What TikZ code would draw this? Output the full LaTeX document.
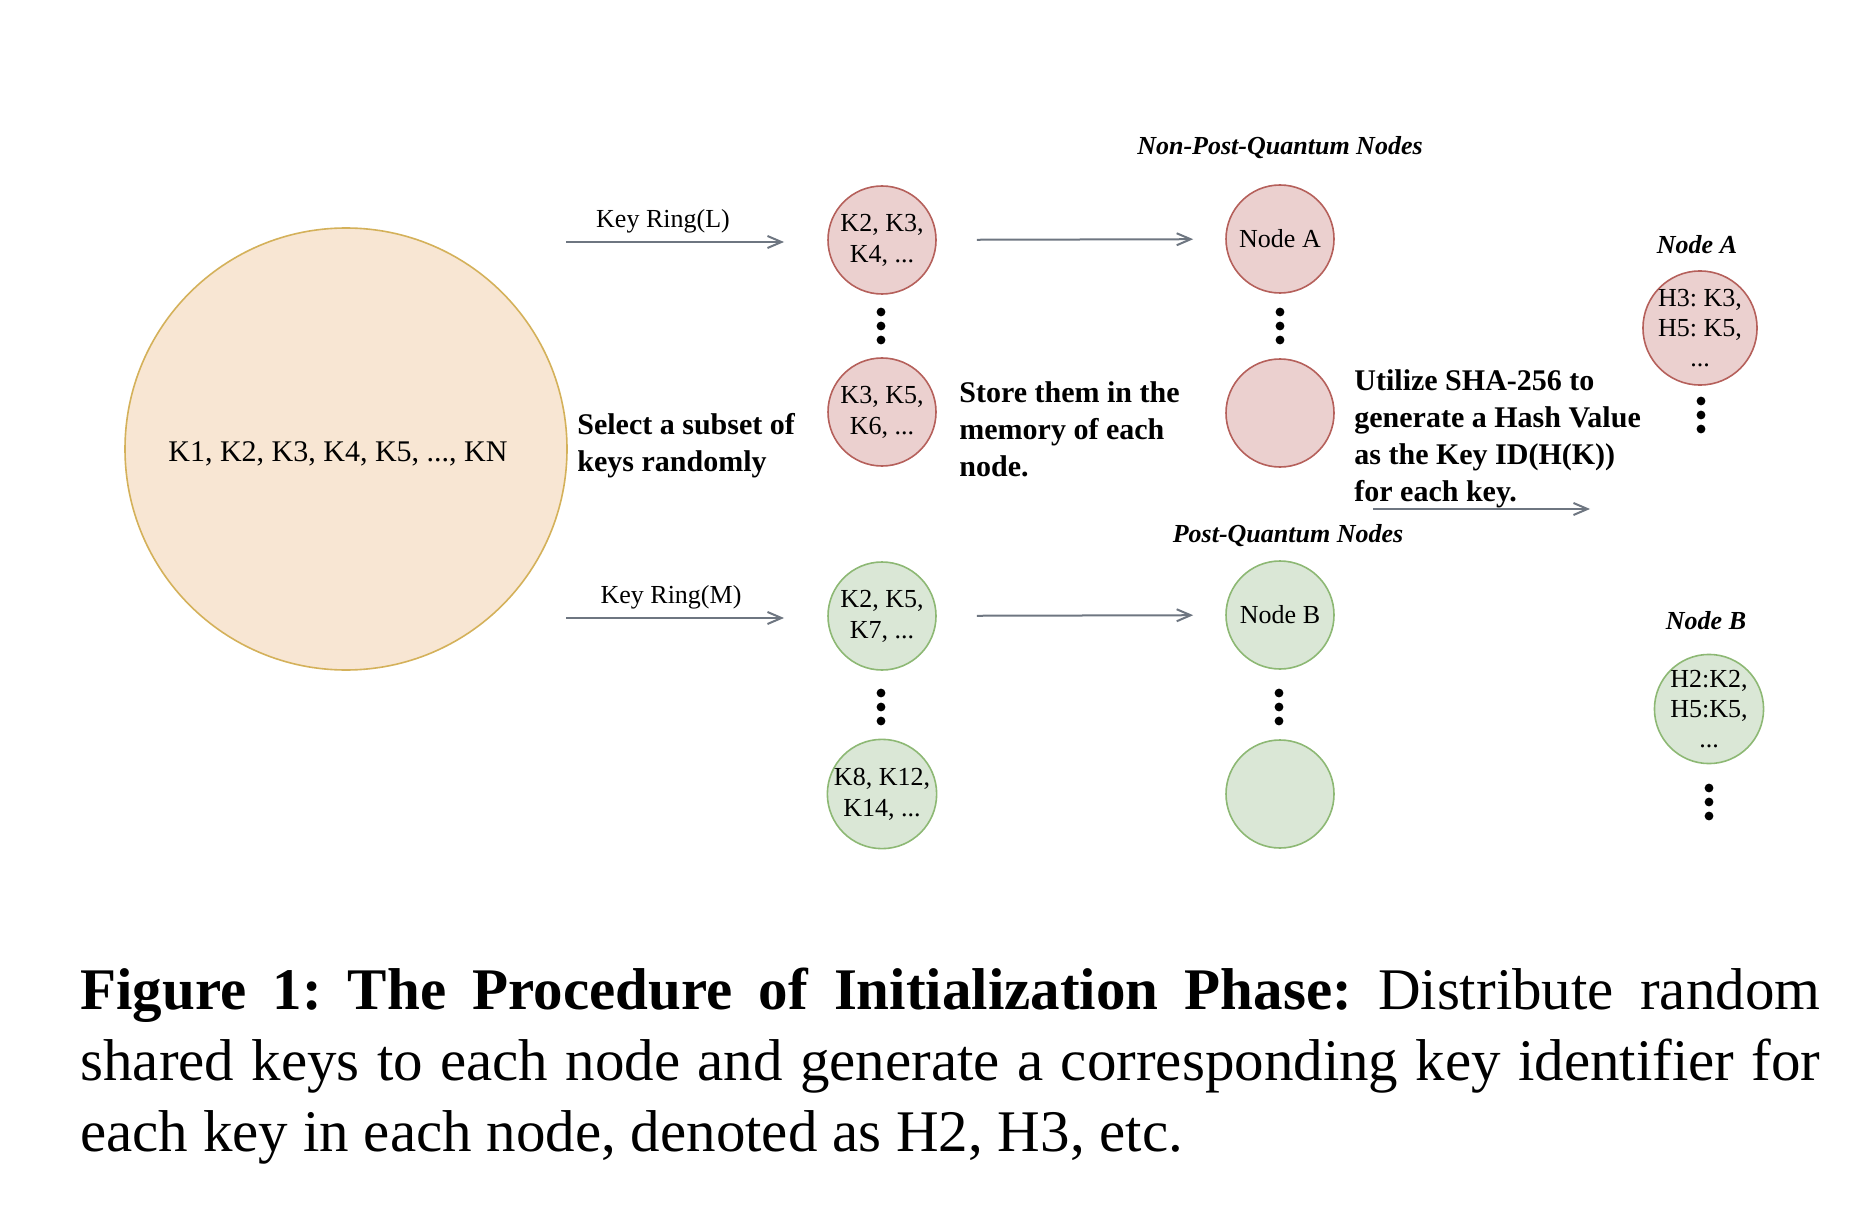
\documentclass[tikz,border=0pt]{standalone}
\usepackage{fontspec}
\setmainfont{Liberation Serif}
\usetikzlibrary{arrows.meta}
\definecolor{poolfill}{HTML}{F8E6D3}
\definecolor{poolline}{HTML}{D4B15A}
\definecolor{npqfill}{HTML}{EBD0CF}
\definecolor{npqline}{HTML}{B5605B}
\definecolor{pqfill}{HTML}{DAE7D6}
\definecolor{pqline}{HTML}{8DB874}
\definecolor{flowgray}{HTML}{6E7681}
\begin{document}
\frenchspacing
\begin{tikzpicture}[x=0.5pt, y=-0.5pt,
    keycircle/.style={circle, draw, line width=0.8pt, minimum size=54pt, inner sep=0pt, align=center, font=\fontsize{13}{15.5}\selectfont},
    npq/.style={keycircle, draw=npqline, fill=npqfill},
    pq/.style={keycircle, draw=pqline, fill=pqfill},
    pool/.style={circle, draw=poolline, fill=poolfill, line width=0.8pt, minimum size=221pt, inner sep=0pt, text height=12.5pt, text depth=0pt, font=\fontsize{15}{18}\selectfont},
    note/.style={align=left, inner sep=0pt, anchor=west, font=\fontsize{15}{18.5}\selectfont\bfseries},
    ringlabel/.style={inner sep=0pt, font=\fontsize{13}{15}\selectfont},
    grouplabel/.style={inner sep=0pt, font=\fontsize{13}{15}\selectfont\bfseries\itshape},
    caption/.style={inner sep=0pt, anchor=north west, text width=870pt, align=justify, font=\fontsize{29.5}{35.5}\selectfont},
    flow/.style={->, draw=flowgray, line width=1pt},
    >={Straight Barb[length=7pt,width=6pt]}]
    \useasboundingbox (0,0) rectangle (1872,1208);

    % Conjunto de claves
    \node[pool] (pool) at (346,449) {K1, K2, K3, K4, K5, ..., KN\hspace*{8pt}};

    % Anillos de claves
    \node[npq] (ringL1) at (882,240) {K2, K3,\\K4, ...};
    \node[npq] (ringL2) at (882,412) {K3, K5,\\K6, ...};
    \node[pq] (ringM1) at (882,616) {K2, K5,\\K7, ...};
    \node[pq] (ringM2) at (882,794) {K8, K12,\\K14, ...};

    % Nodos
    \node[npq] (nodeA) at (1280,239) {Node A};
    \node[npq] (npq2) at (1280,413) {};
    \node[pq] (nodeB) at (1280,615) {Node B};
    \node[pq] (pq2) at (1280,794) {};
    \node[grouplabel] (npqlabel) at (1280,148) {Non-Post-Quantum Nodes};
    \node[grouplabel] (pqlabel) at (1288,536) {Post-Quantum Nodes};

    % Identificadores de clave
    \node[npq, font=\fontsize{13}{15}\selectfont] (hashA) at (1700,328) {H3: K3,\\H5: K5,\\...};
    \node[pq, font=\fontsize{13}{15}\selectfont] (hashB) at (1709,709) {H2:K2,\\H5:K5,\\...};
    \node[grouplabel] (hashAlabel) at (1697,245) {Node A};
    \node[grouplabel] (hashBlabel) at (1706,621) {Node B};

    % Textos de los pasos
    \node[note] (select) at (577,446) {Select a subset of\\keys randomly};
    \node[note] (store) at (959,429) {Store them in the\\memory of each\\node.};
    \node[note] (hashing) at (1354,439) {Utilize SHA-256 to\\generate a Hash Value\\as the Key ID(H(K))\\for each key.};

    % Flechas
    \coordinate (ringLs) at (566,242);
    \coordinate (ringLe) at (784,242);
    \coordinate (ringMs) at (566,618);
    \coordinate (ringMe) at (784,618);
    \coordinate (hashs) at (1373,509);
    \coordinate (hashe) at (1590,509);
    \draw[flow] (ringLs) -- node[ringlabel, above=4pt, xshift=-6pt] {Key Ring(L)} (ringLe);
    \draw[flow] (ringMs) -- node[ringlabel, above=4pt, xshift=-2pt] {Key Ring(M)} (ringMe);
    \draw[flow, shorten <=20pt, shorten >=16pt] (ringL1) -- (nodeA);
    \draw[flow, shorten <=20pt, shorten >=16pt] (ringM1) -- (nodeB);
    \draw[flow] (hashs) -- (hashe);

    % Puntos suspensivos
    \foreach \x/\y in {881/326, 1280/326, 881/707, 1279/707, 1701/415, 1709/802}
        \fill (\x,\y-14) circle (2.2pt) (\x,\y) circle (2.2pt) (\x,\y+14) circle (2.2pt);

    % Pie de figura
    \node[caption] (cap) at (80,968) {\textbf{Figure 1: The Procedure of Initialization Phase:} Distribute random\linebreak shared keys to each node and generate a corresponding key identifier for\linebreak each key in each node, denoted as H2, H3, etc.};
\end{tikzpicture}
\end{document}
